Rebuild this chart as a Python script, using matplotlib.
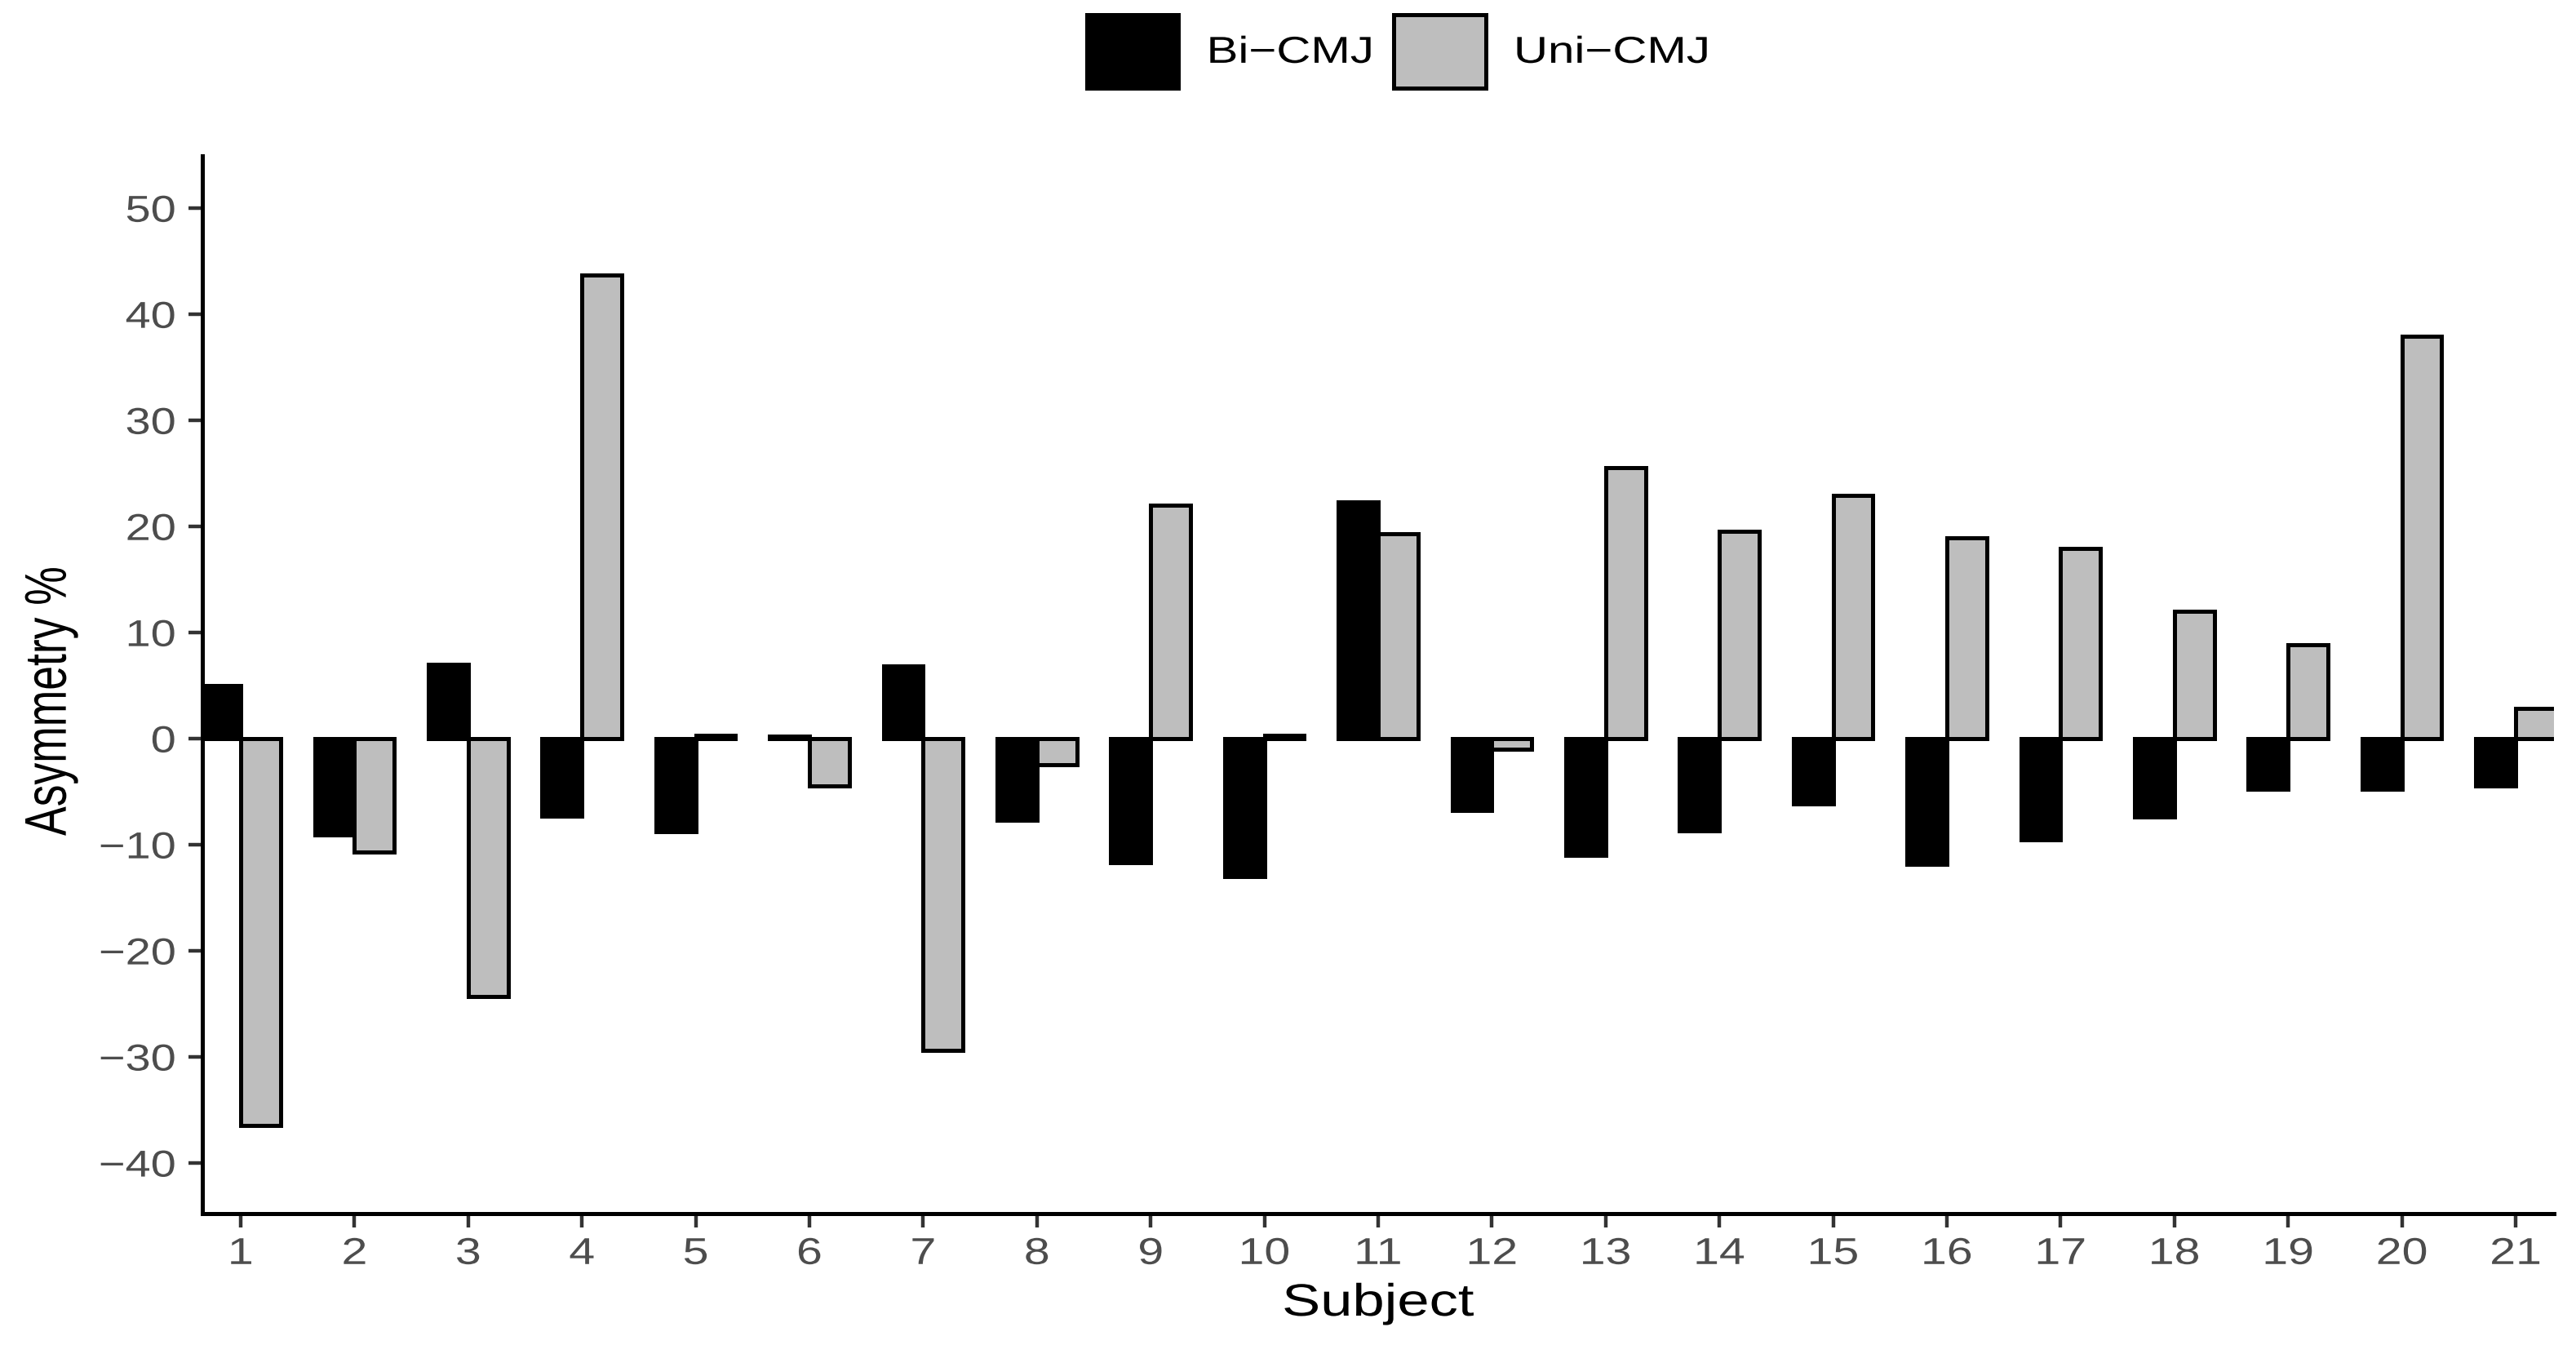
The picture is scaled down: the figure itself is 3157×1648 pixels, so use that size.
import numpy as np
import matplotlib.pyplot as plt
from matplotlib.patches import Patch
from matplotlib.patheffects import AbstractPathEffect
from matplotlib.transforms import Affine2D

plt.rcParams['font.family'] = ['Liberation Sans', 'DejaVu Sans']

subjects = list(range(1, 22))
bi_cmj = [5.0, -9.1, 7.0, -7.3, -8.8, 0.2, 6.8, -7.7, -11.7, -13.0, 22.3,
          -6.8, -11.0, -8.7, -6.2, -11.9, -9.6, -7.4, -4.8, -4.8, -4.5]
uni_cmj = [-36.5, -10.7, -24.3, 43.7, 0.3, -4.5, -29.4, -2.5, 22.0, 0.3, 19.3,
           -1.0, 25.5, 19.5, 22.9, 18.9, 17.9, 12.0, 8.8, 37.9, 2.8]
series = ['Bi-CMJ', 'Uni-CMJ']
fills = ['#000000', '#bebebe']


class StretchX(AbstractPathEffect):
    # the reference text is a bit wider than plain Helvetica/Arial
    def __init__(self, sx, anchor='center'):
        super().__init__()
        self.sx = sx
        self.anchor = anchor

    def draw_path(self, renderer, gc, tpath, affine, rgbFace=None):
        bb = tpath.get_extents(affine)
        if self.anchor == 'left':
            x0 = bb.x0
        elif self.anchor == 'right':
            x0 = bb.x1
        else:
            x0 = (bb.x0 + bb.x1) / 2
        affine = affine + Affine2D().translate(-x0, 0).scale(self.sx, 1).translate(x0, 0)
        renderer.draw_path(gc, tpath, affine, rgbFace)


W, H = 3157, 1648
fig = plt.figure(figsize=(W / 100, H / 100), dpi=100)
# panel in pixels: x 248..3130, y 191..1487
ax = fig.add_axes([248 / W, 1 - 1487 / H, (3130 - 248) / W, (1487 - 191) / H])

x = np.array(subjects, dtype=float)
w = 0.35
lw = 3.6
ax.bar(x - w / 2, bi_cmj, width=w, color=fills[0], edgecolor='black', linewidth=lw)
ax.bar(x + w / 2, uni_cmj, width=w, color=fills[1], edgecolor='black', linewidth=lw)

ax.set_xlim(0.663, 21.337)
ax.set_ylim(-44.8, 54.9)
ax.set_xticks(subjects)
ax.set_xticklabels([str(s) for s in subjects])
ax.set_yticks(np.arange(-40, 51, 10))
ax.set_yticklabels([str(v).replace('-', '\u2212') for v in range(-40, 51, 10)])

for s in ['top', 'right']:
    ax.spines[s].set_visible(False)
for s in ['left', 'bottom']:
    ax.spines[s].set_linewidth(3.6)
    ax.spines[s].set_color('black')

ax.tick_params(axis='both', colors='#333333', labelcolor='#4d4d4d',
               labelsize=33, width=3.2, length=12)
ax.tick_params(axis='x', pad=8)
ax.tick_params(axis='y', pad=11.5)
for lbl in ax.get_xticklabels():
    lbl.set_path_effects([StretchX(1.25, 'center')])
for lbl in ax.get_yticklabels():
    lbl.set_path_effects([StretchX(1.22, 'right')])

xl = ax.set_xlabel('Subject', fontsize=40)
yl = ax.set_ylabel('Asymmetry %', fontsize=38.5, va='center')
ax.xaxis.set_label_coords(0.5, -0.0656)
ax.yaxis.set_label_coords(-0.0645, 0.4846)
xl.set_path_effects([StretchX(1.27, 'center')])
yl.set_path_effects([StretchX(1.35, 'center')])

handles = [Patch(facecolor=fills[0], edgecolor='black', linewidth=lw),
           Patch(facecolor=fills[1], edgecolor='black', linewidth=lw)]
labels = [s.replace('-', '\u2212') for s in series]
leg = fig.legend(handles, labels, loc='upper left', bbox_to_anchor=(1332 / W, 1 - 18 / H),
                 ncol=2, frameon=False, fontsize=33, handlelength=2.45,
                 handleheight=2.65, handletextpad=0.77, columnspacing=1.46,
                 borderpad=0, borderaxespad=0)
for t in leg.get_texts():
    t.set_path_effects([StretchX(1.27, 'left')])

fig.savefig('out.png', dpi=100)
